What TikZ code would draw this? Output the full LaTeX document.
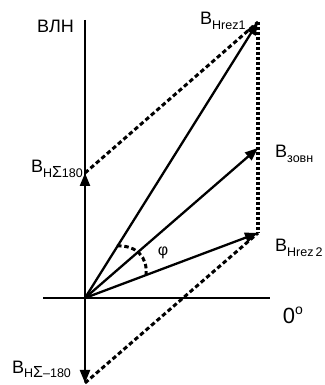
\documentclass[tikz,border=0pt]{standalone}
\usepackage{fontspec}
\setmainfont{Liberation Sans}
\usetikzlibrary{arrows.meta}
\newcommand{\lo}[1]{\raisebox{-4.5pt}{\fontsize{12.5}{13}\selectfont #1}}
\tikzset{
  vec/.style={line width=2.3pt, -{Triangle[length=13pt,width=10pt]}},
  dsh/.style={line width=3pt, dash pattern=on 4.5pt off 2.8pt},
  dotline/.style={line width=3.4pt, dash pattern=on 3pt off 2pt},
  lbl/.style={font=\fontsize{18}{20}\selectfont, inner sep=0pt}
}
\begin{document}
\begin{tikzpicture}[x=1pt,y=1pt]
\useasboundingbox (0,0) rectangle (324,385);
\coordinate (O) at (85,87);
\coordinate (axT) at (85,365);
\coordinate (axL) at (43,87);
\coordinate (axR) at (270,87);
\coordinate (b180) at (85,212);
\coordinate (bm180) at (85,2);
\coordinate (zovn) at (258,237);
\coordinate (rez1) at (258,363);
\coordinate (rez2) at (258,152);
\coordinate (phiA) at (117,139);
\coordinate (phiB) at (146,110);
\draw[line width=1.1pt] (axT) -- (O);
\draw[line width=1.1pt] (axL) -- (axR);
\draw[dsh] (b180) -- (rez1);
\draw[dsh] (bm180) -- (rez2);
\draw[dotline] (rez1) -- (rez2);
\draw[vec] (O) -- (rez1);
\draw[vec] (O) -- (zovn);
\draw[vec] (O) -- (rez2);
\draw[vec] (O) -- (b180);
\draw[vec] (O) -- (bm180);
\draw[dsh] (phiA) .. controls (136,140) and (148,128) .. (phiB);
\node[lbl, anchor=base west] (tVLN) at (37,352) {ВЛН};
\node[lbl, anchor=base west] (tRez1) at (200,360) {B\lo{Hrez1}};
\node[lbl, anchor=base east] (tB180) at (83,212) {B\lo{H}\lo{\fontsize{16}{16}\selectfont Σ}\lo{180}};
\node[lbl, anchor=base west] (tZovn) at (275,227) {B\lo{зовн}};
\node[lbl, anchor=base west] (tRez2) at (275,133) {B\lo{Hrez\,2}};
\node[lbl, anchor=base west] (tBm180) at (12,12) {B\lo{H}\lo{\fontsize{16}{16}\selectfont Σ}\lo{–180}};
\node[lbl, font=\fontsize{22}{24}\selectfont] (tZero) at (293,70) {0\raisebox{9pt}{\fontsize{14}{14}\selectfont o}};
\node[font=\fontsize{16}{16}\selectfont\rmfamily] (tPhi) at (163,132) {φ};
\end{tikzpicture}
\end{document}
